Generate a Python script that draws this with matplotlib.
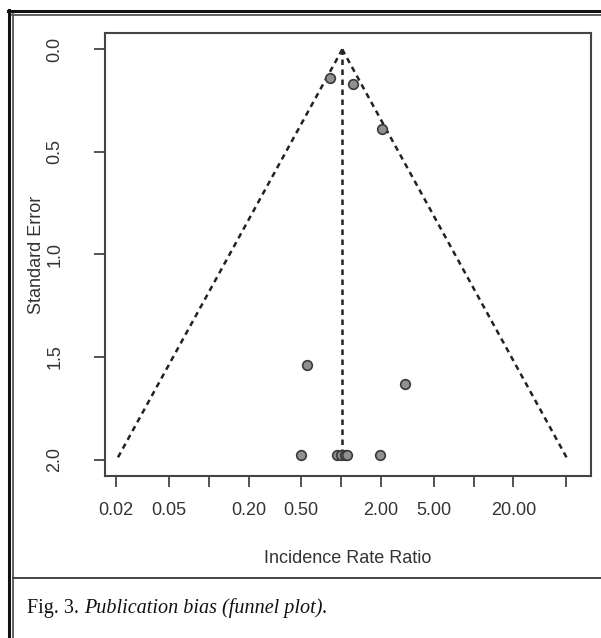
import numpy as np
import matplotlib
matplotlib.use('Agg')
import matplotlib.pyplot as plt
from matplotlib.lines import Line2D

# pooled estimate and study values
pooled_irr = 1.02
study_irr = [0.83, 1.23, 2.04, 0.55, 3.04, 0.50, 0.93, 1.00, 1.07, 1.11, 1.97]
study_se = [0.14, 0.17, 0.39, 1.54, 1.63, 1.98, 1.98, 1.98, 1.98, 1.98, 1.98]
se_max = 2.0

x_ticks = [0.02, 0.05, 0.1, 0.2, 0.5, 1, 2, 5, 10, 20, 50]
x_tick_labels = ['0.02', '0.05', '', '0.20', '0.50', '', '2.00', '5.00', '', '20.00', '']
y_ticks = [0.0, 0.5, 1.0, 1.5, 2.0]
y_tick_labels = ['0.0', '0.5', '1.0', '1.5', '2.0']

W, H = 601, 638
fig = plt.figure(figsize=(W / 100, H / 100), dpi=100)
fig.patch.set_facecolor('white')

ax = fig.add_axes([105 / W, 1 - 476 / H, (591 - 105) / W, (476 - 33) / H])
ax.set_xscale('log')

# funnel: 95% pseudo-confidence limits
se_line = np.array([0.0, se_max])
lo = pooled_irr * np.exp(-1.96 * se_line)
hi = pooled_irr * np.exp(1.96 * se_line)
dash = dict(color='#222222', lw=1.8, linestyle=(0, (2.2, 1.8)))
ax.plot(lo, se_line, **dash)
ax.plot(hi, se_line, **dash)
ax.plot([pooled_irr, pooled_irr], se_line, **dash)

ax.scatter(study_irr, study_se, s=48, facecolor='#909090', edgecolor='#3a3a3a',
           linewidth=1.2, zorder=3)

ax.set_xlim(0.0165, 77)
ax.set_ylim(2.08, -0.08)

ax.set_xticks(x_ticks)
ax.set_xticklabels(x_tick_labels)
ax.minorticks_off()
ax.set_yticks(y_ticks)
ax.set_yticklabels(y_tick_labels, rotation=90, va='center')

txt = '#333333'
for lab in ax.get_xticklabels() + ax.get_yticklabels():
    lab.set_family('Liberation Sans')
    lab.set_fontsize(13)
    lab.set_color(txt)
ax.tick_params(axis='x', length=8, width=1.3, color='#444444', pad=11)
ax.tick_params(axis='y', length=8, width=1.3, color='#444444', pad=22)
for s in ax.spines.values():
    s.set_color('#444444')
    s.set_linewidth(1.5)

ax.set_xlabel('Incidence Rate Ratio', family='Liberation Sans', fontsize=13,
              color=txt, labelpad=22)
ax.set_ylabel('Standard Error', family='Liberation Sans', fontsize=13,
              color=txt, labelpad=1)

# page frame: double border on top and left, caption separator
def hline(y, x0, x1, lw, c):
    fig.add_artist(Line2D([x0 / W, x1 / W], [1 - y / H, 1 - y / H], lw=lw, color=c))

def vline(x, y0, y1, lw, c):
    fig.add_artist(Line2D([x / W, x / W], [1 - y0 / H, 1 - y1 / H], lw=lw, color=c))

hline(10.5, 8, 601, 2.2, '#111111')
hline(14.5, 12, 601, 1.3, '#555555')
vline(9, 9.5, 638, 2.2, '#111111')
vline(13, 14, 638, 1.3, '#555555')
hline(578, 13, 601, 1.4, '#444444')

# caption
fig.canvas.draw()
r = fig.canvas.get_renderer()
t1 = fig.text(27 / W, 1 - 608 / H, 'Fig. 3. ', family='Liberation Serif', fontsize=14.5,
              color='#111111', va='center')
bb = t1.get_window_extent(r)
fig.text(bb.x1 / W, 1 - 608 / H, 'Publication bias (funnel plot).', family='Liberation Serif',
         style='italic', fontsize=14.5, color='#111111', va='center')

fig.savefig('out.png', dpi=100)
